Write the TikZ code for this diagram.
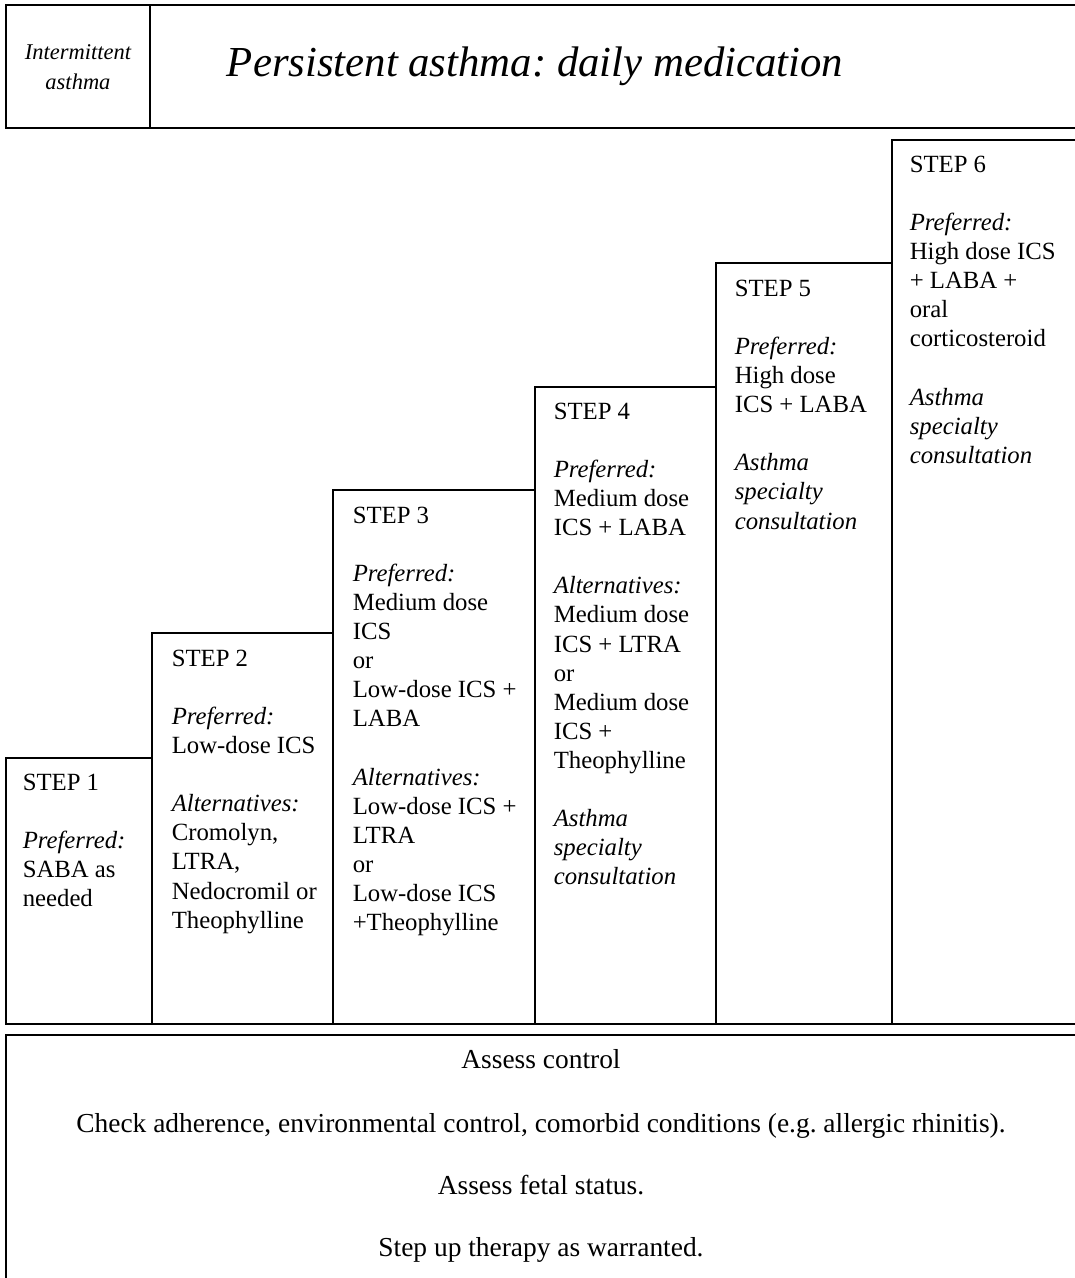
\documentclass[tikz,border=0pt]{standalone}
\usepackage{fontspec}
\setmainfont{Liberation Serif}
\frenchspacing
\usepackage{tikz}
\usetikzlibrary{calc}

\begin{document}
\begin{tikzpicture}[x=0.025cm,y=-0.025cm,line width=1.1pt,
    steptext/.style={anchor=north west,align=left,inner sep=0pt,
        font=\fontsize{17.6}{20.7}\selectfont},
    footline/.style={anchor=base,inner sep=0pt,
        font=\fontsize{19.5}{23}\selectfont}]
            \useasboundingbox (0,0) rectangle (1075,1278);
            \clip (0,0) rectangle (1075,1278);
            \def\b{1024}
            % corners of the steps
            \coordinate (s1) at (6,758);
            \coordinate (s2) at (152,633);
            \coordinate (s3) at (333,490);
            \coordinate (s4) at (535,387);
            \coordinate (s5) at (716,263);
            \coordinate (s6) at (892,140);
            \coordinate (s7) at (1085,140);
            %Header
            \draw (6,5) rectangle (150,128);
            \draw (150,5) rectangle (1085,128);
            \node[align=center,inner sep=0pt,font=\fontsize{16}{21.3}\selectfont\itshape]
                (intermit) at (78,67) {Intermittent\\asthma};
            \node[inner sep=0pt,font=\fontsize{30.4}{36}\selectfont\itshape]
                (persist) at (535,66) {Persistent asthma: daily medication};
            %Steps
            \draw (s1) rectangle (s2 |- 0,\b);
            \draw (s2) rectangle (s3 |- 0,\b);
            \draw (s3) rectangle (s4 |- 0,\b);
            \draw (s4) rectangle (s5 |- 0,\b);
            \draw (s5) rectangle (s6 |- 0,\b);
            \draw (s6) rectangle (s7 |- 0,\b);
            %Step texts
            \node[steptext] (step1) at ($(s1)+(16,15)$)
                {STEP 1\\[20.7pt]\textit{Preferred:}\\SABA as\\needed};
            \node[steptext] (step2) at ($(s2)+(19,16)$)
                {STEP 2\\[20.7pt]\textit{Preferred:}\\Low-dose ICS\\[20.7pt]
                 \textit{Alternatives:}\\Cromolyn,\\LTRA,\\Nedocromil or\\Theophylline};
            \node[steptext] (step3) at ($(s3)+(19,16)$)
                {STEP 3\\[20.7pt]\textit{Preferred:}\\Medium dose\\ICS\\or\\Low-dose ICS +\\LABA\\[20.7pt]
                 \textit{Alternatives:}\\Low-dose ICS +\\LTRA\\or\\Low-dose ICS\\+Theophylline};
            \node[steptext] (step4) at ($(s4)+(18,15)$)
                {STEP 4\\[20.7pt]\textit{Preferred:}\\Medium dose\\ICS + LABA\\[20.7pt]
                 \textit{Alternatives:}\\Medium dose\\ICS + LTRA\\or\\Medium dose\\ICS +\\Theophylline\\[20.7pt]
                 \textit{Asthma}\\\textit{specialty}\\\textit{consultation}};
            \node[steptext] (step5) at ($(s5)+(18,16)$)
                {STEP 5\\[20.7pt]\textit{Preferred:}\\High dose\\ICS + LABA\\[20.7pt]
                 \textit{Asthma}\\\textit{specialty}\\\textit{consultation}};
            \node[steptext] (step6) at ($(s6)+(17,15)$)
                {STEP 6\\[20.7pt]\textit{Preferred:}\\High dose ICS\\+ LABA +\\oral\\corticosteroid\\[20.7pt]
                 \textit{Asthma}\\\textit{specialty}\\\textit{consultation}};
            %Footer
            \draw (6,1035) rectangle (1085,1290);
            \node[footline] (assess) at (541,1068) {Assess control};
            \node[footline] (adhere) at (541,1132)
                {Check adherence, environmental control, comorbid conditions (e.g.\ allergic rhinitis).};
            \node[footline] (fetal) at (541,1194) {Assess fetal status.};
            \node[footline] (stepup) at (541,1256) {Step up therapy as warranted.};
        \end{tikzpicture}
\end{document}
